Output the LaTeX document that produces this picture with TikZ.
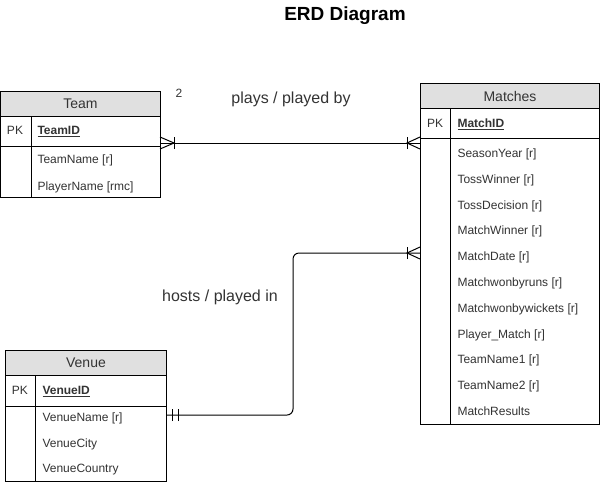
\documentclass[tikz,border=0pt]{standalone}
\usepackage{fontspec}
\setmainfont{Liberation Sans}
\definecolor{hdr}{HTML}{E0E0E0}
\definecolor{txt}{HTML}{333333}
\begin{document}
\begin{tikzpicture}[x=1pt,y=-1pt,line width=1pt,
  frame/.style={draw=black,fill=white,inner sep=0,anchor=north west},
  head/.style={draw=black,fill=hdr,inner sep=0,anchor=north west,text=txt,font=\fontsize{14}{16}\selectfont},
  attr/.style={anchor=base west,inner sep=0,text=txt,font=\fontsize{12}{14}\selectfont,yshift=-4.5pt},
  pk/.style={anchor=base,inner sep=0,text=txt,font=\fontsize{12}{14}\selectfont,yshift=-4.5pt},
  lbl/.style={inner sep=0,text=txt,font=\fontsize{16}{18}\selectfont},
  conn/.style={draw=black,line width=1pt}]
\useasboundingbox (0,0) rectangle (601,483);

\node[inner sep=0,font=\fontsize{19}{22}\selectfont\bfseries] (title) at (345,16) {ERD Diagram};

% ---- Team ----
\node[frame,minimum width=160,minimum height=106] (team) at (0,91) {};
\node[head,minimum width=160,minimum height=25] (teamH) at (0,91) {Team};
\draw (0,146) -- (160,146);
\draw (31,116) -- (31,197);
\node[pk] (teamPK) at (15,130) {PK};
\node[attr] (teamK) at (37,130) {\underline{\textbf{TeamID}}};
\node[attr] (teamA1) at (37,159) {TeamName [r]};
\node[attr] (teamA2) at (37,186) {PlayerName [rmc]};

% ---- Matches ----
\node[frame,minimum width=179,minimum height=341] (match) at (420,83) {};
\node[head,minimum width=179,minimum height=25] (matchH) at (420,83) {Matches};
\draw (420,138) -- (599,138);
\draw (450,108) -- (450,424);
\node[pk] (matchPK) at (435,123) {PK};
\node[attr] (matchK) at (457,123) {\underline{\textbf{MatchID}}};
\foreach \t [count=\i from 0] in {SeasonYear [r],TossWinner [r],TossDecision [r],MatchWinner [r],MatchDate [r],Matchwonbyruns [r],Matchwonbywickets [r],Player\_Match [r],TeamName1 [r],TeamName2 [r],MatchResults}
  \node[attr] (matchA\i) at (457,153+25.8*\i) {\t};

% ---- Venue ----
\node[frame,minimum width=161,minimum height=131] (venue) at (5,350) {};
\node[head,minimum width=161,minimum height=25] (venueH) at (5,350) {Venue};
\draw (5,406) -- (166,406);
\draw (35,375) -- (35,481);
\node[pk] (venuePK) at (20,390) {PK};
\node[attr] (venueK) at (42,390) {\underline{\textbf{VenueID}}};
\node[attr] (venueA1) at (42,417) {VenueName [r]};
\node[attr] (venueA2) at (42,443) {VenueCity};
\node[attr] (venueA3) at (42,468) {VenueCountry};

% ---- connector endpoints ----
\coordinate (tP) at (160,143);
\coordinate (mP) at (420,143);
\coordinate (vH) at (166,415);
\coordinate (mH) at (420,253);

% plays / played by
\draw[conn] (tP) -- (mP);
\draw[conn] ([yshift=-6]tP) -- ([xshift=14]tP) -- ([yshift=6]tP);
\draw[conn] ([xshift=14,yshift=-6]tP) -- ([xshift=14,yshift=6]tP);
\draw[conn] ([yshift=-6]mP) -- ([xshift=-13]mP) -- ([yshift=6]mP);
\draw[conn] ([xshift=-13,yshift=-6]mP) -- ([xshift=-13,yshift=6]mP);

% hosts / played in
\draw[conn,rounded corners=6] (vH) -- (293,415) -- (293,253) -- (mH);
\draw[conn] ([xshift=6,yshift=-6]vH) -- ([xshift=6,yshift=6]vH);
\draw[conn] ([xshift=12,yshift=-6]vH) -- ([xshift=12,yshift=6]vH);
\draw[conn] ([yshift=-6]mH) -- ([xshift=-13]mH) -- ([yshift=6]mH);
\draw[conn] ([xshift=-13,yshift=-6]mH) -- ([xshift=-13,yshift=6]mH);

\node[lbl] (l1) at (291,99) {plays / played by};
\node[lbl] (l2) at (220,297) {hosts / played in};
\node[inner sep=0,text=txt,font=\fontsize{12}{14}\selectfont] (two) at (179,93) {2};
\end{tikzpicture}
\end{document}
